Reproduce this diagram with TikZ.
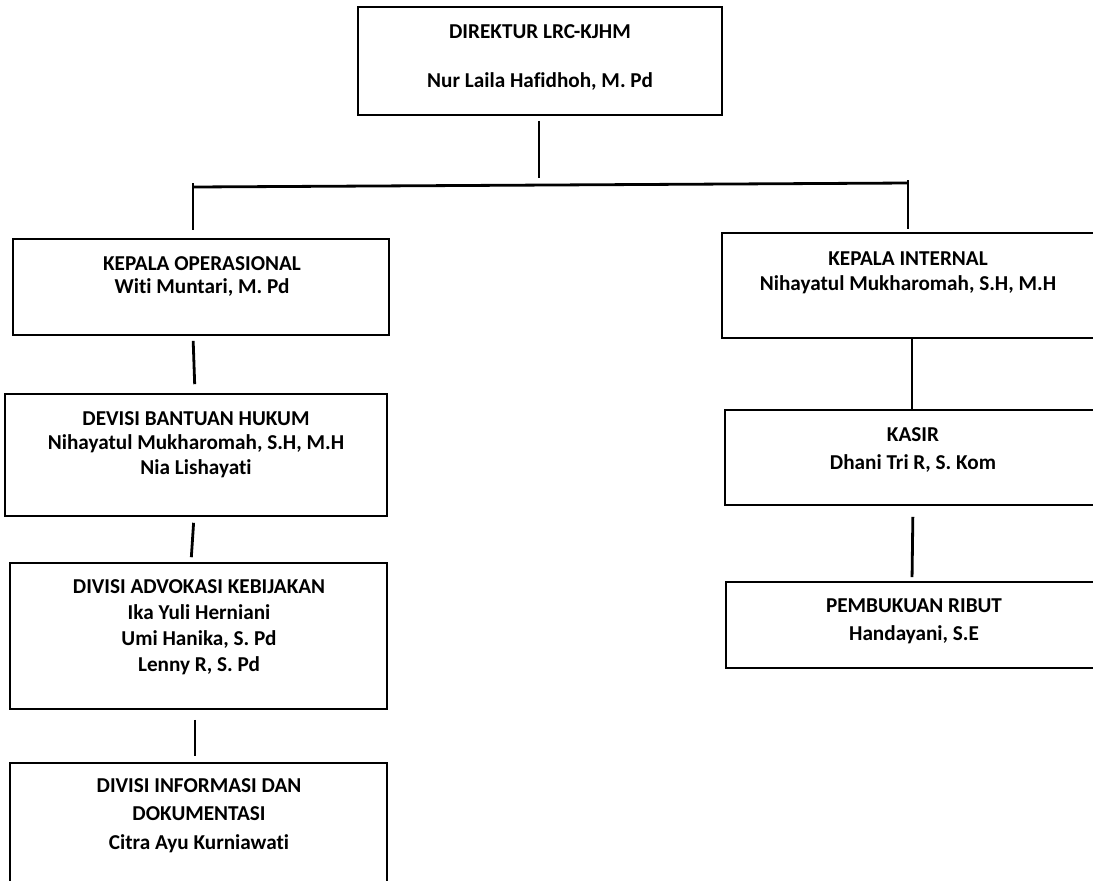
\documentclass[tikz,border=0pt]{standalone}
\usepackage{fontspec}
\setmainfont{Carlito}[Ligatures={NoCommon,NoContextual}]
\usetikzlibrary{positioning}

\begin{document}
\begin{tikzpicture}[x=0.5pt, y=-0.5pt,
  box/.style={draw, line width=0.8pt, rectangle, inner sep=0pt},
  lbl/.style={align=center, inner sep=0pt, font=\fontsize{10.6}{13}\selectfont\bfseries},
  link/.style={line width=1.4pt}]

% Define the page
\useasboundingbox (0,0) rectangle (1093,880);
\clip (0,0) rectangle (1093,880);
\fill[white] (0,0) rectangle (1093,880);

% Draw the boxes
\node[box, minimum width=182pt, minimum height=54pt] (dir) at (540,61) {};
\node[box, minimum width=188pt, minimum height=48pt] (kops) at (201,287) {};
\node[box, minimum width=191pt, minimum height=61pt] (dbh) at (196,455) {};
\node[box, minimum width=188.5pt, minimum height=73pt] (dak) at (198.5,636) {};
\node[box, minimum width=188.5pt, minimum height=63.5pt] (dind) at (198.5,826.5) {};
\node[box, minimum width=186pt, minimum height=52.5pt] (kint) at (908,285.5) {};
\node[box, minimum width=188pt, minimum height=47.5pt] (ksr) at (913,457.5) {};
\node[box, minimum width=188pt, minimum height=43pt] (pbk) at (914,625) {};

% Add the texts
\node[lbl] (dirtxt) at (540,57.5) {DIREKTUR LRC-KJHM\\[11.5pt]Nur Laila Hafidhoh, M. Pd};
\node[lbl] (kopstxt) at (202,276.5) {KEPALA OPERASIONAL\\[-1.5pt]Witi Muntari, M. Pd};
\node[lbl] (dbhtxt) at (196,444.5) {DEVISI BANTUAN HUKUM\\[-0.7pt]Nihayatul Mukharomah, S.H, M.H\\[-0.7pt]Nia Lishayati};
\node[lbl] (daktxt) at (199,627.5) {DIVISI ADVOKASI KEBIJAKAN\\Ika Yuli Herniani\\Umi Hanika, S. Pd\\Lenny R, S. Pd};
\node[lbl] (dindtxt) at (199,815.5) {DIVISI INFORMASI DAN\\[1.2pt]DOKUMENTASI\\[1.2pt]Citra Ayu Kurniawati};
\node[lbl] (kinttxt) at (908,272.5) {KEPALA INTERNAL\\[-0.5pt]Nihayatul Mukharomah, S.H, M.H};
\node[lbl] (ksrtxt) at (913,450) {KASIR\\[1pt]Dhani Tri R, S. Kom};
\node[lbl] (pbktxt) at (914,621) {PEMBUKUAN RIBUT\\[1pt]Handayani, S.E};

% Points of the bar
\coordinate (barM) at (539,178);
\coordinate (barL) at (193,187);
\coordinate (barR) at (908,183);
\coordinate (topL) at (193,183);
\coordinate (topR) at (908,180);

% Draw the connectors
\draw[link, shorten <=2.5pt] (dir.south -| barM) -- (barM);
\draw[link] (barL) -- (barR);
\draw[link, shorten >=4pt] (topL) -- (topL |- kops.north);
\draw[link, shorten >=1.5pt] (topR) -- (topR |- kint.north);
\draw[link, shorten <=2.5pt, shorten >=4.5pt] ([xshift=-4pt]kops.south) -- ([xshift=-0.5pt]dbh.north);
\draw[link, shorten <=3pt, shorten >=2.5pt] ([xshift=-1pt]dbh.south) -- ([xshift=-3.75pt]dak.north);
\draw[link, shorten <=5pt, shorten >=3pt] ([xshift=-1.75pt]dak.south) -- ([xshift=-1.75pt]dind.north);
\draw[link] ([xshift=2pt]kint.south) -- ([xshift=-0.5pt]ksr.north);
\draw[link, shorten <=5.5pt, shorten >=2pt] (ksr.south) -- ([xshift=-1pt]pbk.north);

\end{tikzpicture}
\end{document}
